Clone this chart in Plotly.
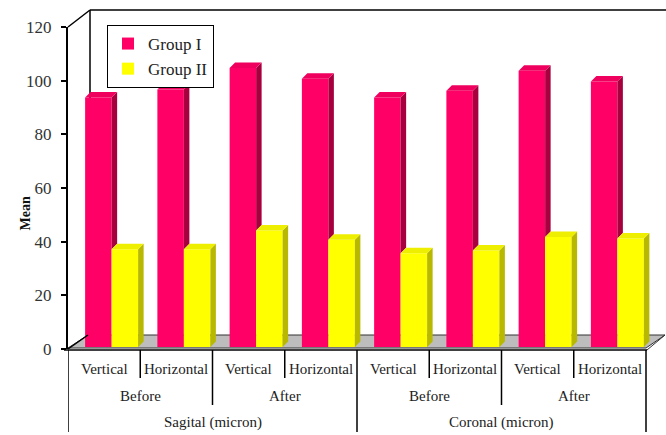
import plotly.graph_objects as go

# ---------------- data ----------------
level1 = ["Vertical", "Horizontal", "Vertical", "Horizontal",
          "Vertical", "Horizontal", "Vertical", "Horizontal"]
level2 = ["Before", "After", "Before", "After"]
level3 = ["Sagital (micron)", "Coronal (micron)"]
group1 = [93, 96, 104, 100, 93, 95.5, 103, 99]
group2 = [36.5, 36.5, 43.5, 40, 35, 36, 41, 40.5]
series_names = ["Group I", "Group II"]

# ---------------- styling constants ----------------
W, H = 666, 435
L, R, T, B = 68, 0, 27, 86
PW = W - L - R
PH = H - T - B
CAT_PX = 72.25                     # pixel width of one category
XR = [-0.5, -0.5 + PW / CAT_PX]
YR = [0, 120]
UNIT_PX = PH / (YR[1] - YR[0])

BW = 26.5 / CAT_PX                 # bar width in x units
SHIFT = 7.5 / CAT_PX               # depth shift of bar pair
DX = 5.5 / CAT_PX                  # 3D side depth (x)
DY = 5.5 / UNIT_PX                 # 3D side depth (y)
BASE = 0.7                         # bars stand on floor (depth offset)

RED, RED_SIDE, RED_TOP = "#FF0066", "#A8003F", "#F0005E"
YEL, YEL_SIDE, YEL_TOP = "#FFFF00", "#B8B800", "#EEEE00"
FONT = "'Liberation Serif', 'Times New Roman', 'DejaVu Serif', serif"


def px_x(p):
    return (p - L) / PW


def px_y(p):
    return (H - B - p) / PH


n = len(level1)
xs = list(range(n))

fig = go.Figure()

# front faces (bars)
fig.add_trace(go.Bar(x=[i + SHIFT for i in xs], y=group1, base=BASE,
                     offset=-BW, width=BW, name=series_names[0],
                     marker=dict(color=RED, line=dict(width=0))))
fig.add_trace(go.Bar(x=[i + SHIFT for i in xs], y=group2, base=BASE,
                     offset=0, width=BW, name=series_names[1],
                     marker=dict(color=YEL, line=dict(width=0))))


def faces(values, off, occl=None):
    sx, sy, tx, ty = [], [], [], []
    for i, v in zip(xs, values):
        xl = i + SHIFT + off
        xr = xl + BW
        b = BASE
        t = BASE + v
        if occl is not None:
            b = BASE + occl[i]
        sx += [xr, xr + DX, xr + DX, xr, xr, None]
        sy += [b, b + DY, t + DY, t, b, None]
        tx += [xl, xl + DX, xr + DX, xr, xl, None]
        ty += [t, t + DY, t + DY, t, t, None]
    return sx, sy, tx, ty


for vals, off, occ, cs, ct in [(group1, -BW, group2, RED_SIDE, RED_TOP),
                               (group2, 0, None, YEL_SIDE, YEL_TOP)]:
    sx, sy, tx, ty = faces(vals, off, occ)
    fig.add_trace(go.Scatter(x=sx, y=sy, mode="lines", fill="toself",
                             fillcolor=cs, line=dict(width=0, color=cs),
                             showlegend=False, hoverinfo="skip"))
    fig.add_trace(go.Scatter(x=tx, y=ty, mode="lines", fill="toself",
                             fillcolor=ct, line=dict(width=0, color=ct),
                             showlegend=False, hoverinfo="skip"))

shapes = []
line_k = dict(color="black", width=1.5)

# floor
fx0, fx1 = px_x(68), px_x(646)
bx0, bx1 = px_x(88), px_x(665)
fy, by = px_y(348), px_y(335)
shapes.append(dict(type="path", xref="paper", yref="paper", layer="below",
                   path=f"M {fx0} {fy} L {fx1} {fy} L {bx1} {by} L {bx0} {by} Z",
                   fillcolor="#BDBDBD", line=dict(color="#333", width=1)))
# floor front edge
shapes.append(dict(type="line", xref="paper", yref="paper", x0=px_x(64), x1=px_x(647),
                   y0=px_y(350), y1=px_y(350), line=line_k))
# right floor edge down
shapes.append(dict(type="line", xref="paper", yref="paper", x0=px_x(647), x1=px_x(665),
                   y0=px_y(350), y1=px_y(335), line=dict(color="#333", width=1)))
# back wall
shapes.append(dict(type="line", xref="paper", yref="paper", x0=px_x(68), x1=px_x(90),
                   y0=px_y(27), y1=px_y(10), line=line_k))
shapes.append(dict(type="line", xref="paper", yref="paper", x0=px_x(90), x1=px_x(666),
                   y0=px_y(10), y1=px_y(10), line=line_k))
shapes.append(dict(type="line", xref="paper", yref="paper", x0=px_x(90), x1=px_x(90),
                   y0=px_y(10), y1=px_y(335), line=line_k, layer="below"))
shapes.append(dict(type="line", xref="paper", yref="paper", x0=px_x(68), x1=px_x(88),
                   y0=px_y(349), y1=px_y(335), line=line_k))

# category separators
short_b, mid_b, long_b = px_y(378), px_y(405), px_y(432)
for k in range(n + 1):
    xb = k - 0.5
    if k % 4 == 0:
        y1 = long_b
    elif k % 2 == 0:
        y1 = mid_b
    else:
        y1 = short_b
    shapes.append(dict(type="line", xref="x", yref="paper", x0=xb, x1=xb,
                       y0=px_y(350), y1=y1, line=line_k))

annotations = []
tf = dict(family=FONT, size=15, color="#222")
for i, lab in enumerate(level1):
    annotations.append(dict(x=i, y=px_y(369), xref="x", yref="paper", text=lab,
                            showarrow=False, font=tf, yanchor="middle"))
for j, lab in enumerate(level2):
    annotations.append(dict(x=2 * j + 0.5, y=px_y(396), xref="x", yref="paper", text=lab,
                            showarrow=False, font=tf, yanchor="middle"))
for j, lab in enumerate(level3):
    annotations.append(dict(x=4 * j + 1.5, y=px_y(423), xref="x", yref="paper", text=lab,
                            showarrow=False, font=tf, yanchor="middle"))
annotations.append(dict(x=px_x(15), y=px_y(214), xref="paper", yref="paper", text="<b>Mean</b>",
                        textangle=-90, showarrow=False,
                        font=dict(family=FONT, size=14, color="#111")))

fig.update_layout(
    width=W, height=H,
    margin=dict(l=L, r=R, t=T, b=B, pad=0),
    paper_bgcolor="white", plot_bgcolor="white",
    barmode="overlay",
    showlegend=True,
    legend=dict(x=px_x(107), y=px_y(25), xanchor="left", yanchor="top",
                bordercolor="black", borderwidth=1, bgcolor="white",
                font=dict(family=FONT, size=17, color="#222"),
                tracegroupgap=0, itemwidth=30),
    xaxis=dict(range=XR, showticklabels=False, showgrid=False, zeroline=False,
               showline=False, ticks=""),
    yaxis=dict(range=YR, tickvals=[0, 20, 40, 60, 80, 100, 120], showgrid=False,
               zeroline=False, showline=True, linecolor="black", linewidth=2,
               ticks="outside", ticklen=5, tickwidth=1.5, tickcolor="black",
               ticklabelstandoff=6,
               tickfont=dict(family=FONT, size=17, color="#333")),
    shapes=shapes,
    annotations=annotations,
)

fig.write_html("out.html")
